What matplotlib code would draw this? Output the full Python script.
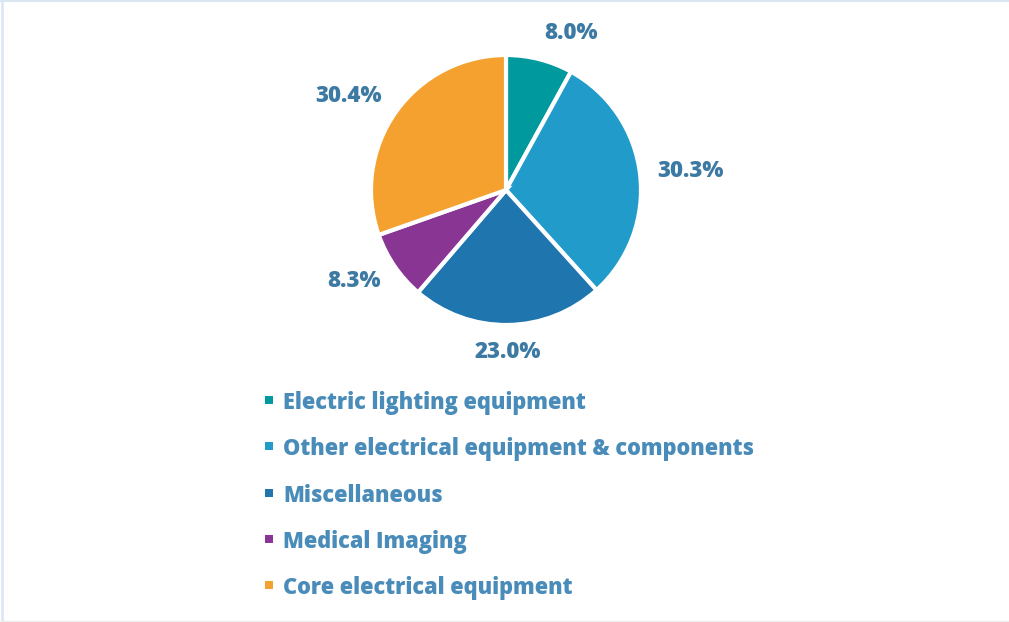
import matplotlib
matplotlib.use("Agg")
import matplotlib.pyplot as plt
from matplotlib.patches import Rectangle
from matplotlib.lines import Line2D
import numpy as np

categories = ["Electric lighting equipment", "Other electrical equipment & components",
              "Miscellaneous", "Medical Imaging", "Core electrical equipment"]
values = [8.0, 30.3, 23.0, 8.3, 30.4]
colors = ["#00999e", "#219bc9", "#1f75ae", "#883594", "#f4a12f"]

plt.rcParams['font.family'] = ['Open Sans', 'DejaVu Sans']
W, H = 1009, 622
fig = plt.figure(figsize=(W / 100, H / 100), dpi=100)

# pie center (506, 190) px from top-left, radius 135 px
cx, cy, half = 506, H - 190, 189
ax = fig.add_axes([(cx - half) / W, (cy - half) / H, 2 * half / W, 2 * half / H])

wedges, _ = ax.pie(values, colors=colors, startangle=90, counterclock=False, radius=1.0,
                   wedgeprops=dict(edgecolor='white', linewidth=3))
ax.set_xlim(-1.4, 1.4)
ax.set_ylim(-1.4, 1.4)
ax.set_aspect('equal')
ax.axis('off')

label_color = "#3d7aa3"
for w, v in zip(wedges, values):
    ang = np.deg2rad((w.theta1 + w.theta2) / 2)
    c, s = np.cos(ang), np.sin(ang)
    if c > 0.15:
        ha = 'left'
    elif c < -0.15:
        ha = 'right'
    else:
        ha = 'center'
    x = 1.125 * c
    y = 1.2 * s
    ax.text(x, y, f"{v:.1f}%", ha=ha, va='center', fontsize=16, fontweight='heavy',
            color=label_color)

# legend
legend_color = "#4a8cb9"
y0 = 400
dy = 46.3
for i, (cat, col) in enumerate(zip(categories, colors)):
    yy = H - (y0 + i * dy)
    fig.add_artist(Rectangle(((265) / W, (yy - 4) / H), 8 / W, 8 / H,
                             transform=fig.transFigure, facecolor=col, edgecolor='none'))
    fig.text(283 / W, yy / H, cat, ha='left', va='center_baseline', fontsize=15.7,
             fontweight='heavy', color=legend_color)

# border: top and left light blue, faint bottom line
fig.add_artist(Line2D([0, 1], [1 - 1 / H, 1 - 1 / H], transform=fig.transFigure,
                      color='#dae6f1', linewidth=1.5))
fig.add_artist(Line2D([1.5 / W, 1.5 / W], [0, 1], transform=fig.transFigure,
                      color='#dae6f1', linewidth=1.8))
fig.add_artist(Line2D([0, 1], [0.7 / H, 0.7 / H], transform=fig.transFigure,
                      color='#eeeeee', linewidth=1.0))

fig.savefig("out.png", dpi=100)
